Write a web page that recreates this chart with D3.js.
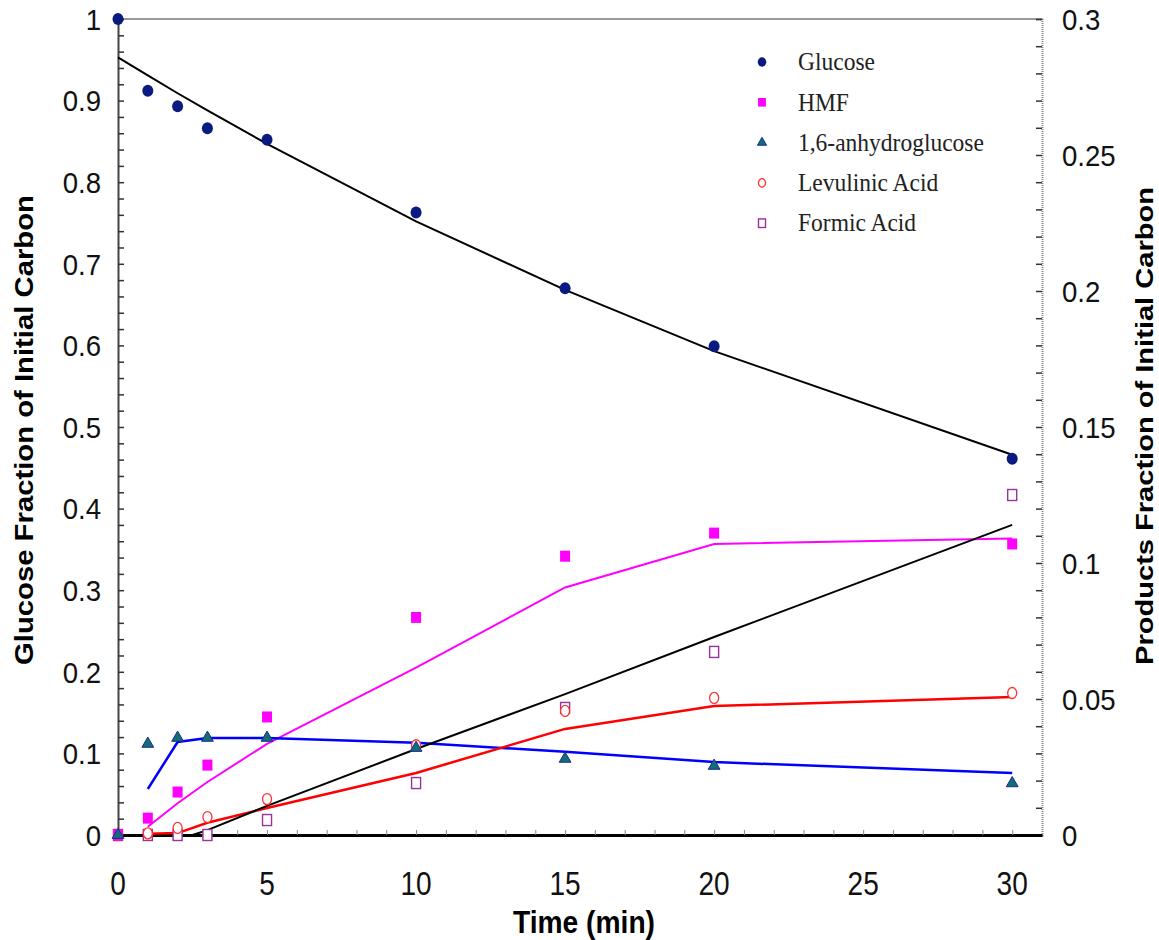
<!DOCTYPE html>
<html>
<head>
<meta charset="utf-8">
<script src="https://cdn.jsdelivr.net/npm/d3@7"></script>
<style>
  body { margin: 0; background: #fff; }
  svg { display: block; }
</style>
</head>
<body>
<div id="chart"></div>
<script>
// sample times (min)
const times = [0, 1, 2, 3, 5, 10, 15, 20, 30];

// measured points: glucose on left axis, products on right axis
const glucose = [1.0, 0.912, 0.893, 0.866, 0.852, 0.763, 0.670, 0.599, 0.461];
const hmf = [0, 0.0062, 0.0158, 0.0257, 0.0434, 0.080, 0.1025, 0.111, 0.107];
const anhydro = [0, 0.0335, 0.0357, 0.0357, 0.0357, 0.032, 0.028, 0.0254, 0.019];
const levulinic = [0, 0.0006, 0.0026, 0.0066, 0.0132, 0.033, 0.0456, 0.0504, 0.0522];
const formic = [0, 0, 0, 0, 0.0055, 0.0191, 0.0467, 0.0673, 0.125];

// model curves
const glucoseFit = [0.953, 0.931, 0.909, 0.888, 0.847, 0.752, 0.668, 0.593, 0.466];
const fitTimes = [1, 2, 3, 5, 10, 15, 20, 30];
const hmfFit = [0.003, 0.0117, 0.0195, 0.0335, 0.0615, 0.091, 0.107, 0.109];
const anhydroFit = [0.0169, 0.0342, 0.0357, 0.0357, 0.0339, 0.0306, 0.0268, 0.0228];
const levulinicFit = [0.0005, 0.0007, 0.0045, 0.0099, 0.0228, 0.039, 0.0474, 0.0507];
const formicTimes = [2.5, 3, 5, 10, 15, 20, 30];
const formicFit = [0, 0.0018, 0.0107, 0.0316, 0.0518, 0.0728, 0.114];

const xTicks = [0, 5, 10, 15, 20, 25, 30];
const leftTicks = [0, 0.1, 0.2, 0.3, 0.4, 0.5, 0.6, 0.7, 0.8, 0.9, 1];
const rightTicks = [0, 0.05, 0.1, 0.15, 0.2, 0.25, 0.3];
const legendNames = ['Glucose', 'HMF', '1,6-anhydroglucose', 'Levulinic Acid', 'Formic Acid'];

const width = 1159;
const height = 940;
const margin = { top: 19, right: 117, bottom: 105, left: 118 };

const x = d3.scaleLinear()
  .domain([0, 31])
  .range([margin.left, width - margin.right]);

const yL = d3.scaleLinear()
  .domain([0, 1])
  .range([height - margin.bottom, margin.top]);

const yR = d3.scaleLinear()
  .domain([0, 0.3])
  .range([height - margin.bottom, margin.top]);

const svg = d3.select('#chart')
  .append('svg')
  .attr('width', width)
  .attr('height', height);

const numFont = 'Liberation Sans, Arial, sans-serif';
const fmt = d3.format('~g');

// top frame line
svg.append('line')
  .attr('x1', x(0)).attr('x2', x(31))
  .attr('y1', yL(1)).attr('y2', yL(1))
  .attr('stroke', '#777').attr('stroke-width', 1.5);

// left axis
const leftAxis = svg.append('g')
  .attr('transform', `translate(${x(0)},0)`)
  .call(d3.axisRight(yL).tickValues(d3.range(0, 1.001, 0.02)).tickSize(6).tickFormat(''));
leftAxis.select('.domain').attr('stroke', '#444').attr('stroke-width', 2);
leftAxis.selectAll('.tick line').attr('stroke', '#333').attr('stroke-width', 1.5);

// condensed-looking tick labels
svg.append('g')
  .selectAll('text')
  .data(leftTicks)
  .join('text')
  .attr('transform', (d) => `translate(101,${yL(d)}) scale(0.92,1)`)
  .attr('dy', '0.36em')
  .attr('text-anchor', 'end')
  .attr('font-family', numFont)
  .attr('font-size', 30)
  .attr('fill', '#111')
  .text((d) => fmt(d));

// right axis
const rightAxis = svg.append('g')
  .attr('transform', `translate(${x(31)},0)`)
  .call(d3.axisLeft(yR).tickValues(d3.range(0, 0.3001, 0.01)).tickSize(6).tickFormat(''));
rightAxis.select('.domain').attr('stroke', '#888').attr('stroke-width', 2).attr('stroke-dasharray', '1,1');
rightAxis.selectAll('.tick line').attr('stroke', '#333').attr('stroke-width', 1.5);

svg.append('g')
  .selectAll('text')
  .data(rightTicks)
  .join('text')
  .attr('transform', (d) => `translate(1062,${yR(d)}) scale(0.92,1)`)
  .attr('dy', '0.36em')
  .attr('font-family', numFont)
  .attr('font-size', 30)
  .attr('fill', '#111')
  .text((d) => fmt(d));

// bottom axis
const bottomAxis = svg.append('g')
  .attr('transform', `translate(0,${yL(0)})`)
  .call(d3.axisTop(x).tickValues(d3.range(1, 31, 1)).tickSize(5).tickFormat('').tickSizeOuter(0));
bottomAxis.select('.domain').attr('stroke', '#000').attr('stroke-width', 3);
bottomAxis.selectAll('.tick line').attr('stroke', '#888').attr('stroke-width', 1);

svg.append('g')
  .selectAll('text')
  .data(xTicks)
  .join('text')
  .attr('transform', (d) => `translate(${x(d)},895) scale(0.85,1)`)
  .attr('text-anchor', 'middle')
  .attr('font-family', numFont)
  .attr('font-size', 33)
  .attr('fill', '#111')
  .text((d) => d);

// axis titles
svg.append('text')
  .attr('x', 584).attr('y', 933)
  .attr('text-anchor', 'middle')
  .attr('font-family', numFont)
  .attr('font-weight', 'bold')
  .attr('font-size', 31)
  .attr('textLength', 142)
  .attr('lengthAdjust', 'spacingAndGlyphs')
  .text('Time (min)');

svg.append('text')
  .attr('transform', 'translate(33,430) rotate(-90)')
  .attr('text-anchor', 'middle')
  .attr('font-family', numFont)
  .attr('font-weight', 'bold')
  .attr('font-size', 25)
  .attr('textLength', 470)
  .attr('lengthAdjust', 'spacingAndGlyphs')
  .text('Glucose Fraction of Initial Carbon');

svg.append('text')
  .attr('transform', 'translate(1153,426) rotate(-90)')
  .attr('text-anchor', 'middle')
  .attr('font-family', numFont)
  .attr('font-weight', 'bold')
  .attr('font-size', 24)
  .attr('textLength', 478)
  .attr('lengthAdjust', 'spacingAndGlyphs')
  .text('Products Fraction of Initial Carbon');

// model lines
const lineL = d3.line().x((d) => x(d[0])).y((d) => yL(d[1]));
const lineR = d3.line().x((d) => x(d[0])).y((d) => yR(d[1]));

const drawLine = (gen, xs, ys, color, w) => svg.append('path')
  .datum(xs.map((t, i) => [t, ys[i]]))
  .attr('d', gen)
  .attr('fill', 'none')
  .attr('stroke', color)
  .attr('stroke-width', w);

drawLine(lineL, times, glucoseFit, '#000', 2);
drawLine(lineR, fitTimes, hmfFit, '#ff00ff', 2);
drawLine(lineR, fitTimes, anhydroFit, '#0000ff', 2.5);
drawLine(lineR, fitTimes, levulinicFit, '#ff0000', 2.5);
drawLine(lineR, formicTimes, formicFit, '#000', 2);

// markers
const tri = d3.symbol().type(d3.symbolTriangle);

const markers = {
  glucose: (g, s) => g.append('ellipse').attr('rx', 5.5 * s).attr('ry', 6 * s).attr('fill', '#0b1a80'),
  hmf: (g, s) => g.append('rect').attr('x', -5 * s).attr('y', -5.5 * s).attr('width', 10 * s).attr('height', 11 * s).attr('fill', '#ff00ff'),
  anhydro: (g, s) => g.append('path').attr('d', tri.size(60 * s * s)()).attr('fill', '#136d77').attr('stroke', '#1a2a90').attr('stroke-width', 1),
  levulinic: (g, s) => g.append('ellipse').attr('rx', 4.5 * s).attr('ry', 5.5 * s).attr('fill', '#fff').attr('stroke', '#ff3030').attr('stroke-width', 1.3),
  formic: (g, s) => g.append('rect').attr('x', -4.5 * s).attr('y', -5.5 * s).attr('width', 9 * s).attr('height', 11 * s).attr('fill', '#fff').attr('stroke', '#993399').attr('stroke-width', 1.4),
};

const drawPoints = (values, scale, key) => {
  values.forEach((v, i) => {
    const g = svg.append('g').attr('transform', `translate(${x(times[i])},${scale(v)})`);
    markers[key](g, 1);
  });
};

drawPoints(formic, yR, 'formic');
drawPoints(levulinic, yR, 'levulinic');
drawPoints(hmf, yR, 'hmf');
drawPoints(anhydro, yR, 'anhydro');
drawPoints(glucose, yL, 'glucose');

// legend
const legendKeys = ['glucose', 'hmf', 'anhydro', 'levulinic', 'formic'];
legendKeys.forEach((k, i) => {
  const yy = 62 + i * 40.3;
  const g = svg.append('g').attr('transform', `translate(762,${yy})`);
  markers[k](g, 0.78);
  svg.append('text')
    .attr('transform', `translate(798,${yy}) scale(0.94,1)`)
    .attr('dy', '0.33em')
    .attr('font-family', 'Liberation Serif, Times New Roman, serif')
    .attr('font-size', 25)
    .attr('fill', '#222')
    .text(legendNames[i]);
});
</script>
</body>
</html>
